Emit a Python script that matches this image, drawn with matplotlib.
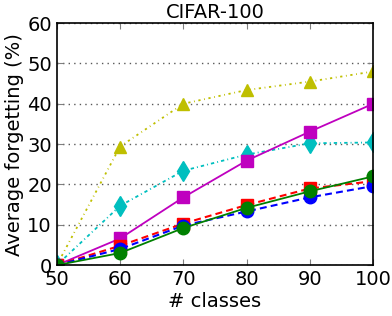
import matplotlib
matplotlib.use('Agg')
import matplotlib.pyplot as plt

plt.rcParams['lines.scale_dashes'] = False

classes = [50, 60, 70, 80, 90, 100]
y_tri = [0, 29.4, 40, 43.4, 45.5, 48]
c_dia = [0, 14.7, 23.4, 27.4, 30.2, 30.4]
m_sq = [0, 6.6, 16.8, 25.9, 33.1, 40]
r_sq = [0, 4.8, 10.3, 14.9, 19.0, 20.8]
b_ci = [0, 4.0, 9.8, 13.3, 16.8, 19.6]
g_ci = [0, 3.0, 9.2, 14.2, 18.3, 22.0]

fig = plt.figure(figsize=(3.92, 3.16), dpi=100)
ax = fig.add_axes([0.145, 0.161, 0.807, 0.766])

ms = 9
yel = (0.75, 0.75, 0)
cya = (0, 0.75, 0.75)
mag = (0.75, 0, 0.75)
ax.plot(classes, y_tri, color=yel, marker='^', ms=ms, mec=yel, lw=1.3, dashes=(1.6, 2.6, 0.6, 2.6))
ax.plot(classes, c_dia, color=cya, marker='d', ms=ms + 1, mec=cya, lw=1.3, dashes=(2.4, 2.2, 0.7, 2.2))
ax.plot(classes, m_sq, '-', color=mag, marker='s', ms=ms, mec=mag, lw=1.3)
ax.plot(classes, r_sq, color='r', marker='s', ms=ms, mec='r', lw=1.5, dashes=(5, 3))
ax.plot(classes, b_ci, color='b', marker='o', ms=ms, mec='b', lw=1.5, dashes=(5, 3))
ax.plot(classes, g_ci, '-', color=(0, 0.5, 0), marker='o', ms=ms, mec=(0, 0.5, 0), lw=1.3)

ax.set_xlim(50, 100)
ax.set_ylim(0, 60)
ax.set_xticks(classes)
ax.set_yticks([0, 10, 20, 30, 40, 50, 60])
ax.yaxis.grid(True, color='0.35', lw=1, dashes=(1, 3))
ax.tick_params(direction='in', top=True, right=True, labelsize=14, length=4, color='0.5')
for s in ax.spines.values():
    s.set_linewidth(1.2)
ax.set_title('CIFAR-100', fontsize=14, pad=4)
ax.set_xlabel('# classes', fontsize=14, labelpad=2)
ax.set_ylabel('Average forgetting (%)', fontsize=14, labelpad=2)

fig.savefig('out.png', dpi=100)
